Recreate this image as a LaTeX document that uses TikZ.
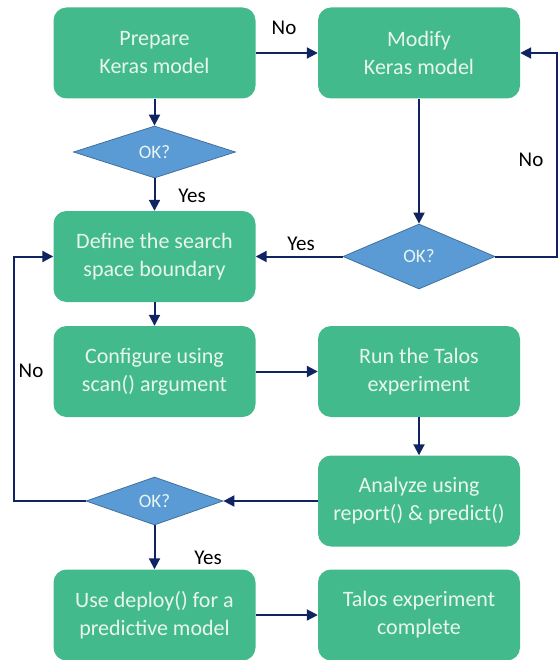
\documentclass[tikz,border=0pt]{standalone}
\usepackage{fontspec}
\setmainfont{Carlito}
\usetikzlibrary{shapes.geometric,arrows.meta}
\definecolor{boxgreen}{RGB}{67,186,139}
\definecolor{dblue}{RGB}{91,155,213}
\definecolor{dborder}{RGB}{65,113,156}
\definecolor{navy}{RGB}{16,36,100}
\definecolor{txt}{RGB}{232,246,238}
\begin{document}
\begin{tikzpicture}[x=1pt,y=-1pt,
  proc/.style={rectangle, rounded corners=13pt, fill=boxgreen, text=txt,
    minimum width=202pt, minimum height=91pt, align=center,
    font=\fontsize{22}{28}\selectfont, inner sep=0pt},
  dec/.style={diamond, fill=dblue, draw=dborder, line width=0.8pt, text=txt,
    font=\fontsize{19}{22}\selectfont, inner sep=0pt, aspect=3},
  arr/.style={draw=navy, line width=2pt, -{Triangle[length=11pt,width=11pt]}},
  lbl/.style={font=\fontsize{21}{24}\selectfont, text=black, inner sep=0pt}]
\useasboundingbox (0,0) rectangle (559,660);

\node[proc] (b1) at (154.5,53) {Prepare\\Keras model};
\node[proc] (b2) at (419,53) {Modify\\Keras model};
\node[proc] (b3) at (154.5,256.5) {Define the search\\space boundary};
\node[proc] (b4) at (154.5,371.5) {Configure using\\scan() argument};
\node[proc] (b5) at (419,371.5) {Run the Talos\\experiment};
\node[proc] (b6) at (419,501) {Analyze using\\report() \& predict()};
\node[proc] (b7) at (154.5,615) {Use deploy() for a\\predictive model};
\node[proc] (b8) at (419,615) {Talos experiment\\complete};

\node[dec, minimum width=162pt, minimum height=52pt] (d1) at (154.5,152) {OK?};
\node[dec, minimum width=152pt, minimum height=65pt] (d2) at (419,256.5) {OK?};
\node[dec, minimum width=137pt, minimum height=48pt] (d3) at (154.5,501) {OK?};

\coordinate (rloop) at (557,0);
\coordinate (lloop) at (14,0);

\draw[arr] (b1) -- (b2);
\draw[arr] (b1) -- (d1);
\draw[arr] (d1) -- (b3);
\draw[arr] (b2) -- (d2);
\draw[arr] (d2) -- (b3);
\draw[arr] (d2.east) -- (d2.east -| rloop) |- (b2.east);
\draw[arr] (b3) -- (b4);
\draw[arr] (b4) -- (b5);
\draw[arr] (b5) -- (b6);
\draw[arr] (b6) -- (d3);
\draw[arr] (d3.west) -- (d3.west -| lloop) |- (b3.west);
\draw[arr] (d3) -- (b7);
\draw[arr] (b7) -- (b8);

\node[lbl] (no1) at (284,28) {No};
\node[lbl] (yes1) at (192,196) {Yes};
\node[lbl] (yes2) at (301,244) {Yes};
\node[lbl] (no2) at (531,160) {No};
\node[lbl] (no3) at (31,371) {No};
\node[lbl] (yes3) at (208,558) {Yes};
\end{tikzpicture}
\end{document}
